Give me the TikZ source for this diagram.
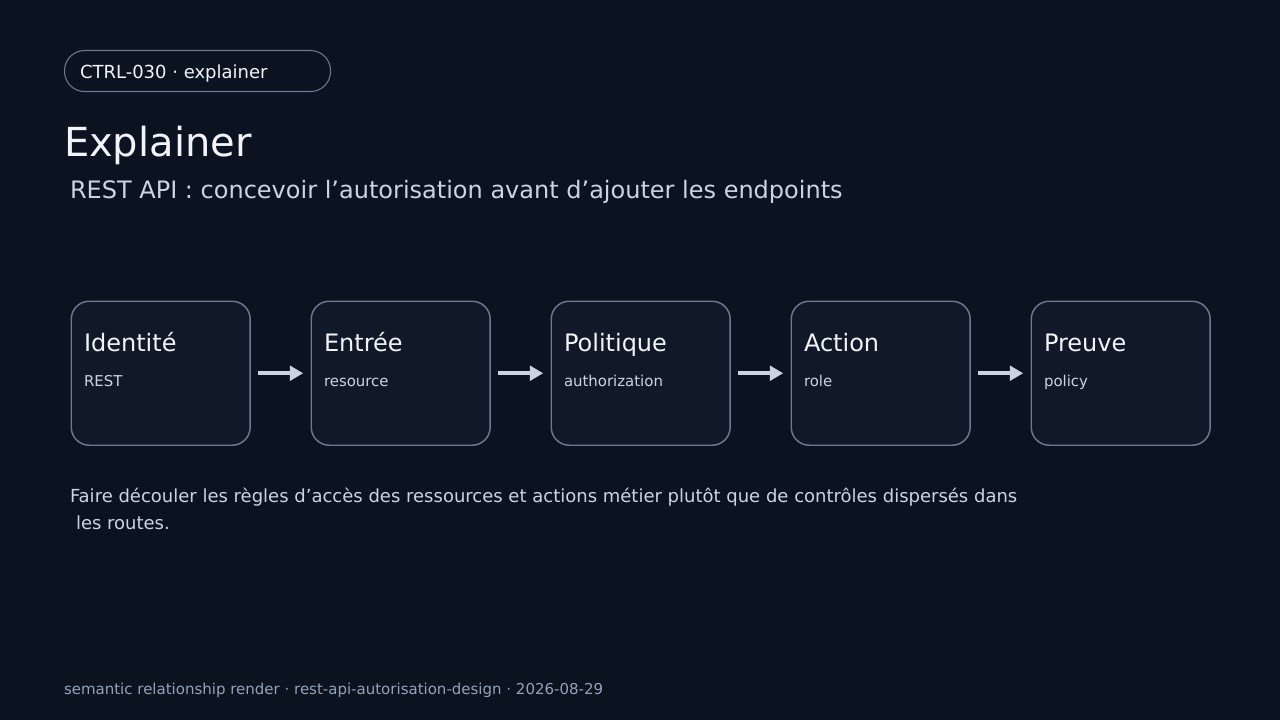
\documentclass[tikz,border=0pt]{standalone}
\usepackage{fontspec}
\setmainfont{DejaVu Sans}
\usetikzlibrary{arrows.meta}
\definecolor{bg}{HTML}{0B1220}
\definecolor{boxfill}{HTML}{111827}
\definecolor{boxline}{HTML}{6B7A90}
\definecolor{titlec}{HTML}{F1F5F9}
\definecolor{subc}{HTML}{CBD5E1}
\definecolor{footc}{HTML}{94A3B8}
\definecolor{arrowc}{HTML}{CBD5E1}
\tikzset{
  txt/.style={anchor=base west, inner sep=0pt, outer sep=0pt},
  stepbox/.style={draw=boxline, line width=1.1pt, fill=boxfill, rounded corners=13.5pt, minimum width=134.2pt, minimum height=108pt, inner sep=0pt, anchor=north west},
  flow/.style={draw=arrowc, line width=3pt, -{Triangle[length=10pt,width=11pt]}, shorten >=0pt},
}
\begin{document}
\begin{tikzpicture}[x=0.75pt,y=-0.75pt]
\fill[bg] (0,0) rectangle (1280,720);
\useasboundingbox (0,0) rectangle (1280,720);
% pill
\node[draw=boxline, line width=0.8pt, rounded corners=15pt, minimum width=199.5pt, minimum height=30.75pt, anchor=north west, inner sep=0pt] (pill) at (64,50) {};
\node[txt, text=titlec, font=\fontsize{13.5pt}{16pt}\selectfont] (pilltxt) at (80,79) {CTRL-030 · explainer};
% title
\node[txt, text=titlec, font=\fontsize{30pt}{36pt}\selectfont] (title) at (64,157) {Explainer};
\node[txt, text=subc, font=\fontsize{18pt}{22pt}\selectfont] (subtitle) at (70,199) {REST API : concevoir l’autorisation avant d’ajouter les endpoints};
% boxes
\foreach \i/\t/\s/\n in {0/Identité/REST/b1, 1/Entrée/resource/b2, 2/Politique/authorization/b3, 3/Action/role/b4, 4/Preuve/policy/b5}{
  \node[stepbox] (\n) at (70.5+240*\i,300.5) {};
  \node[txt, text=titlec, font=\fontsize{18pt}{22pt}\selectfont] (\n t) at (84+240*\i,351) {\t};
  \node[txt, text=subc, font=\fontsize{11.2pt}{14pt}\selectfont] (\n s) at (84+240*\i,386) {\s};
}
\foreach \a/\b in {b1/b2, b2/b3, b3/b4, b4/b5}{
  \draw[flow] ([xshift=5.5pt]\a.east) -- ([xshift=-5.5pt]\b.west);
}
% body
\node[txt, text=subc, font=\fontsize{13.5pt}{16pt}\selectfont] (body1) at (70,502) {Faire découler les règles d’accès des ressources et actions métier plutôt que de contrôles dispersés dans};
\node[txt, text=subc, font=\fontsize{13.5pt}{16pt}\selectfont] (body2) at (76,529) {les routes.};
% footer
\node[txt, text=footc, font=\fontsize{11.25pt}{14pt}\selectfont] (footer) at (64,694) {semantic relationship render · rest-api-autorisation-design · 2026-08-29};
\end{tikzpicture}
\end{document}
